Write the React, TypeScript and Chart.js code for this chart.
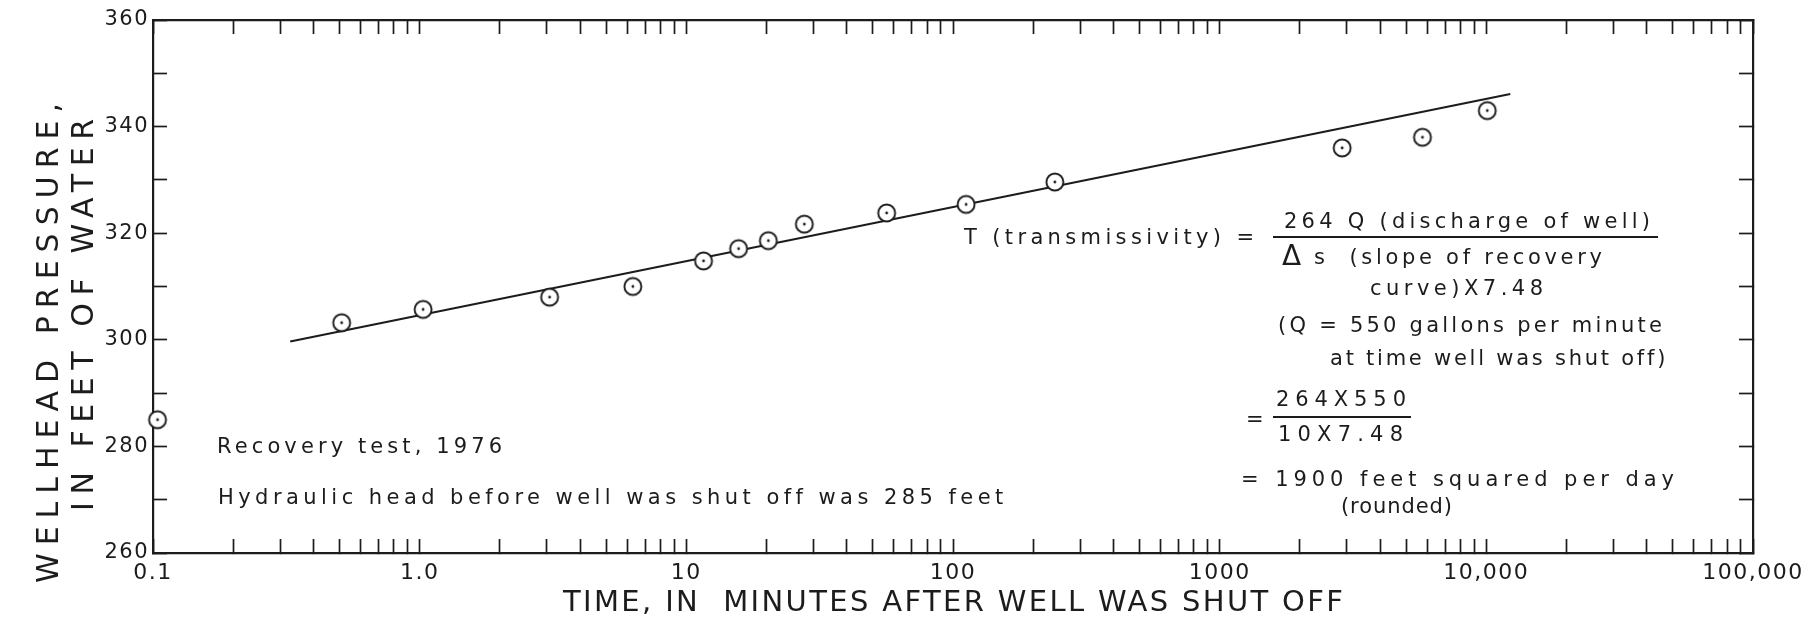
import React, { useEffect, useRef } from 'react';
import { Chart, registerables } from 'chart.js';

Chart.register(...registerables);

// ---------------- data ----------------
const timeMinutes = [0.104, 0.51, 1.03, 3.07, 6.3, 11.6, 15.7, 20.3, 27.7, 56.4, 112, 241, 2880, 5760, 10080];
const pressureFeet = [285, 303.2, 305.7, 308.0, 310.0, 314.8, 317.1, 318.6, 321.7, 323.8, 325.4, 329.6, 336, 338, 343];

const fitLineTime = [0.327, 12300];
const fitLinePressure = [299.7, 346.1];

const xDecades = [0.1, 1, 10, 100, 1000, 10000, 100000];
const xDecadeLabels = ['0.1', '1.0', '10', '100', '1000', '10,000', '100,000'];
const xMinorMultipliers = [2, 3, 4, 5, 6, 7, 8, 9];

const yTickValues = [260, 270, 280, 290, 300, 310, 320, 330, 340, 350, 360];
const yTickLabels = ['260', '', '280', '', '300', '', '320', '', '340', '', '360'];

const xTitle = 'TIME, IN  MINUTES AFTER WELL WAS SHUT OFF';
const yTitleLine1 = 'WELLHEAD PRESSURE,';
const yTitleLine2 = 'IN FEET OF WATER';

// ---------------- styles / layout ----------------
const INK = '#1c1c1c';
const FONT = '"DejaVu Sans", "Liberation Sans", sans-serif';
const W = 1813;
const H = 629;

type Note = { text: string; x: number; y: number; w?: number; size?: number };
const notes: Note[] = [
  { text: 'Recovery test, 1976', x: 217, y: 448, w: 285 },
  { text: 'Hydraulic head before well was shut off was 285 feet', x: 218, y: 499, w: 785 },
  { text: 'T (transmissivity) =', x: 964, y: 239, w: 290 },
  { text: '264 Q (discharge of well)', x: 1284, y: 223, w: 366 },
  { text: 'Δ', x: 1282, y: 258, size: 28 },
  { text: 's  (slope of recovery', x: 1314, y: 259, w: 288 },
  { text: 'curve)X7.48', x: 1370, y: 290, w: 173 },
  { text: '(Q = 550 gallons per minute', x: 1278, y: 327, w: 384 },
  { text: 'at time well was shut off)', x: 1330, y: 360, w: 335 },
  { text: '264X550', x: 1276, y: 401, w: 130 },
  { text: '=', x: 1246, y: 421 },
  { text: '10X7.48', x: 1278, y: 436, w: 125 },
  { text: '= 1900 feet squared per day', x: 1241, y: 481, w: 433 },
  { text: '(rounded)', x: 1341, y: 508, w: 111 },
];
const noteFont = 21;
const fractionBars = [
  { x1: 1273, x2: 1658, y: 237 },
  { x1: 1273, x2: 1411, y: 417 },
];
const xTitleFont = 29;
const yTitleFont = 30;
const xTitleBox = { cy: 603, w: 780 };
const yTitleBoxes = [
  { text: yTitleLine1, cx: 50, cy: 343, len: 480 },
  { text: yTitleLine2, cx: 85, cy: 315, len: 392 },
];

function makeMarker(): HTMLCanvasElement {
  const c = document.createElement('canvas');
  c.width = 24;
  c.height = 24;
  const g = c.getContext('2d')!;
  g.fillStyle = '#ffffff';
  g.strokeStyle = INK;
  g.lineWidth = 1.9;
  g.beginPath();
  g.arc(12, 12, 8.5, 0, Math.PI * 2);
  g.fill();
  g.stroke();
  g.fillStyle = INK;
  g.beginPath();
  g.arc(12, 12, 1.4, 0, Math.PI * 2);
  g.fill();
  return c;
}

function xTickList() {
  const out: { value: number }[] = [];
  xDecades.forEach((d, i) => {
    out.push({ value: d });
    if (i < xDecades.length - 1) xMinorMultipliers.forEach((m) => out.push({ value: d * m }));
  });
  return out;
}

function spacedText(ctx: CanvasRenderingContext2D, text: string, x: number, y: number, target?: number) {
  ctx.letterSpacing = '0px';
  const w0 = ctx.measureText(text).width;
  const ls = target && text.length > 1 ? Math.max(0, (target - w0) / (text.length - 1)) : 0;
  ctx.letterSpacing = `${ls}px`;
  ctx.fillText(text, x, y);
  ctx.letterSpacing = '0px';
}

const notesPlugin = {
  id: 'notes',
  beforeDraw(chart: any) {
    chart.ctx.letterSpacing = '1.5px';
  },
  afterDraw(chart: any) {
    const ctx = chart.ctx as CanvasRenderingContext2D;
    ctx.save();
    ctx.fillStyle = INK;
    ctx.strokeStyle = INK;
    ctx.textBaseline = 'middle';
    ctx.textAlign = 'left';
    for (const n of notes) {
      ctx.font = `${n.size || noteFont}px ${FONT}`;
      spacedText(ctx, n.text, n.x, n.y, n.w);
    }
    ctx.lineWidth = 1.8;
    for (const b of fractionBars) {
      ctx.beginPath();
      ctx.moveTo(b.x1, b.y);
      ctx.lineTo(b.x2, b.y);
      ctx.stroke();
    }

    // axis titles
    const area = chart.chartArea;
    ctx.font = `${xTitleFont}px ${FONT}`;
    const cx = (area.left + area.right) / 2;
    spacedText(ctx, xTitle, cx - xTitleBox.w / 2, xTitleBox.cy, xTitleBox.w);
    ctx.font = `${yTitleFont}px ${FONT}`;
    for (const t of yTitleBoxes) {
      ctx.save();
      ctx.translate(t.cx, t.cy);
      ctx.rotate(-Math.PI / 2);
      spacedText(ctx, t.text, -t.len / 2, 0, t.len);
      ctx.restore();
    }
    ctx.restore();
    ctx.letterSpacing = '0px';
  },
};

function zeroPad(s: any) {
  s.paddingTop = 0;
  s.paddingBottom = 0;
  s.paddingLeft = 0;
  s.paddingRight = 0;
}

export default function App() {
  const ref = useRef<HTMLCanvasElement | null>(null);

  useEffect(() => {
    if (!ref.current) return;
    const marker = makeMarker();
    const points = timeMinutes.map((t, i) => ({ x: t, y: pressureFeet[i] }));
    const fit = fitLineTime.map((t, i) => ({ x: t, y: fitLinePressure[i] }));

    const gridCommon = {
      drawOnChartArea: false,
      drawTicks: true,
      tickLength: -14,
      tickWidth: 1.7,
      tickColor: INK,
    };
    const borderCommon = { display: true, color: INK, width: 2.2 };

    const chart = new Chart(ref.current, {
      type: 'scatter',
      data: {
        datasets: [
          {
            type: 'line',
            data: fit,
            borderColor: INK,
            borderWidth: 2,
            pointRadius: 0,
            fill: false,
            order: 2,
          } as any,
          {
            data: points,
            pointStyle: marker as any,
            pointRadius: 9,
            clip: false as any,
            order: 1,
          },
        ],
      },
      options: {
        animation: false,
        responsive: false,
        devicePixelRatio: 1,
        events: [],
        layout: { padding: { left: 0, right: 60, top: 20, bottom: 0 } },
        plugins: { legend: { display: false }, tooltip: { enabled: false } },
        scales: {
          x: {
            type: 'logarithmic',
            position: 'bottom',
            min: 0.1,
            max: 100000,
            afterBuildTicks: (s: any) => {
              s.ticks = xTickList();
            },
            afterFit: (s: any) => {
              s.height = 76;
              zeroPad(s);
            },
            grid: gridCommon,
            border: borderCommon,
            ticks: {
              autoSkip: false,
              maxRotation: 0,
              padding: 21,
              color: INK,
              font: { family: FONT, size: 22 },
              callback: (v: any) => {
                const i = xDecades.findIndex((d) => Math.abs(d - Number(v)) < d * 1e-6);
                return i >= 0 ? xDecadeLabels[i] : '';
              },
            },
          },
          x2: {
            type: 'logarithmic',
            position: 'top',
            min: 0.1,
            max: 100000,
            afterBuildTicks: (s: any) => {
              s.ticks = xTickList();
            },
            afterFit: (s: any) => {
              s.height = 0;
              zeroPad(s);
            },
            grid: gridCommon,
            border: borderCommon,
            ticks: { display: false, autoSkip: false },
          },
          y: {
            type: 'linear',
            position: 'left',
            min: 260,
            max: 360,
            afterBuildTicks: (s: any) => {
              s.ticks = yTickValues.map((v) => ({ value: v }));
            },
            afterFit: (s: any) => {
              s.width = 153;
              zeroPad(s);
            },
            grid: gridCommon,
            border: borderCommon,
            ticks: {
              autoSkip: false,
              padding: 18,
              color: INK,
              font: { family: FONT, size: 21 },
              callback: (v: any) => {
                const i = yTickValues.indexOf(Number(v));
                return i >= 0 ? yTickLabels[i] : '';
              },
            },
          },
          y2: {
            type: 'linear',
            position: 'right',
            min: 260,
            max: 360,
            afterBuildTicks: (s: any) => {
              s.ticks = yTickValues.map((v) => ({ value: v }));
            },
            afterFit: (s: any) => {
              s.width = 0;
              zeroPad(s);
            },
            grid: gridCommon,
            border: borderCommon,
            ticks: { display: false },
          },
        },
      },
      plugins: [notesPlugin],
    });
    return () => chart.destroy();
  }, []);

  return (
    <div style={{ position: 'absolute', left: 0, top: 0, width: W, height: H, background: '#fff' }}>
      <canvas ref={ref} width={W} height={H} style={{ display: 'block' }} />
    </div>
  );
}
